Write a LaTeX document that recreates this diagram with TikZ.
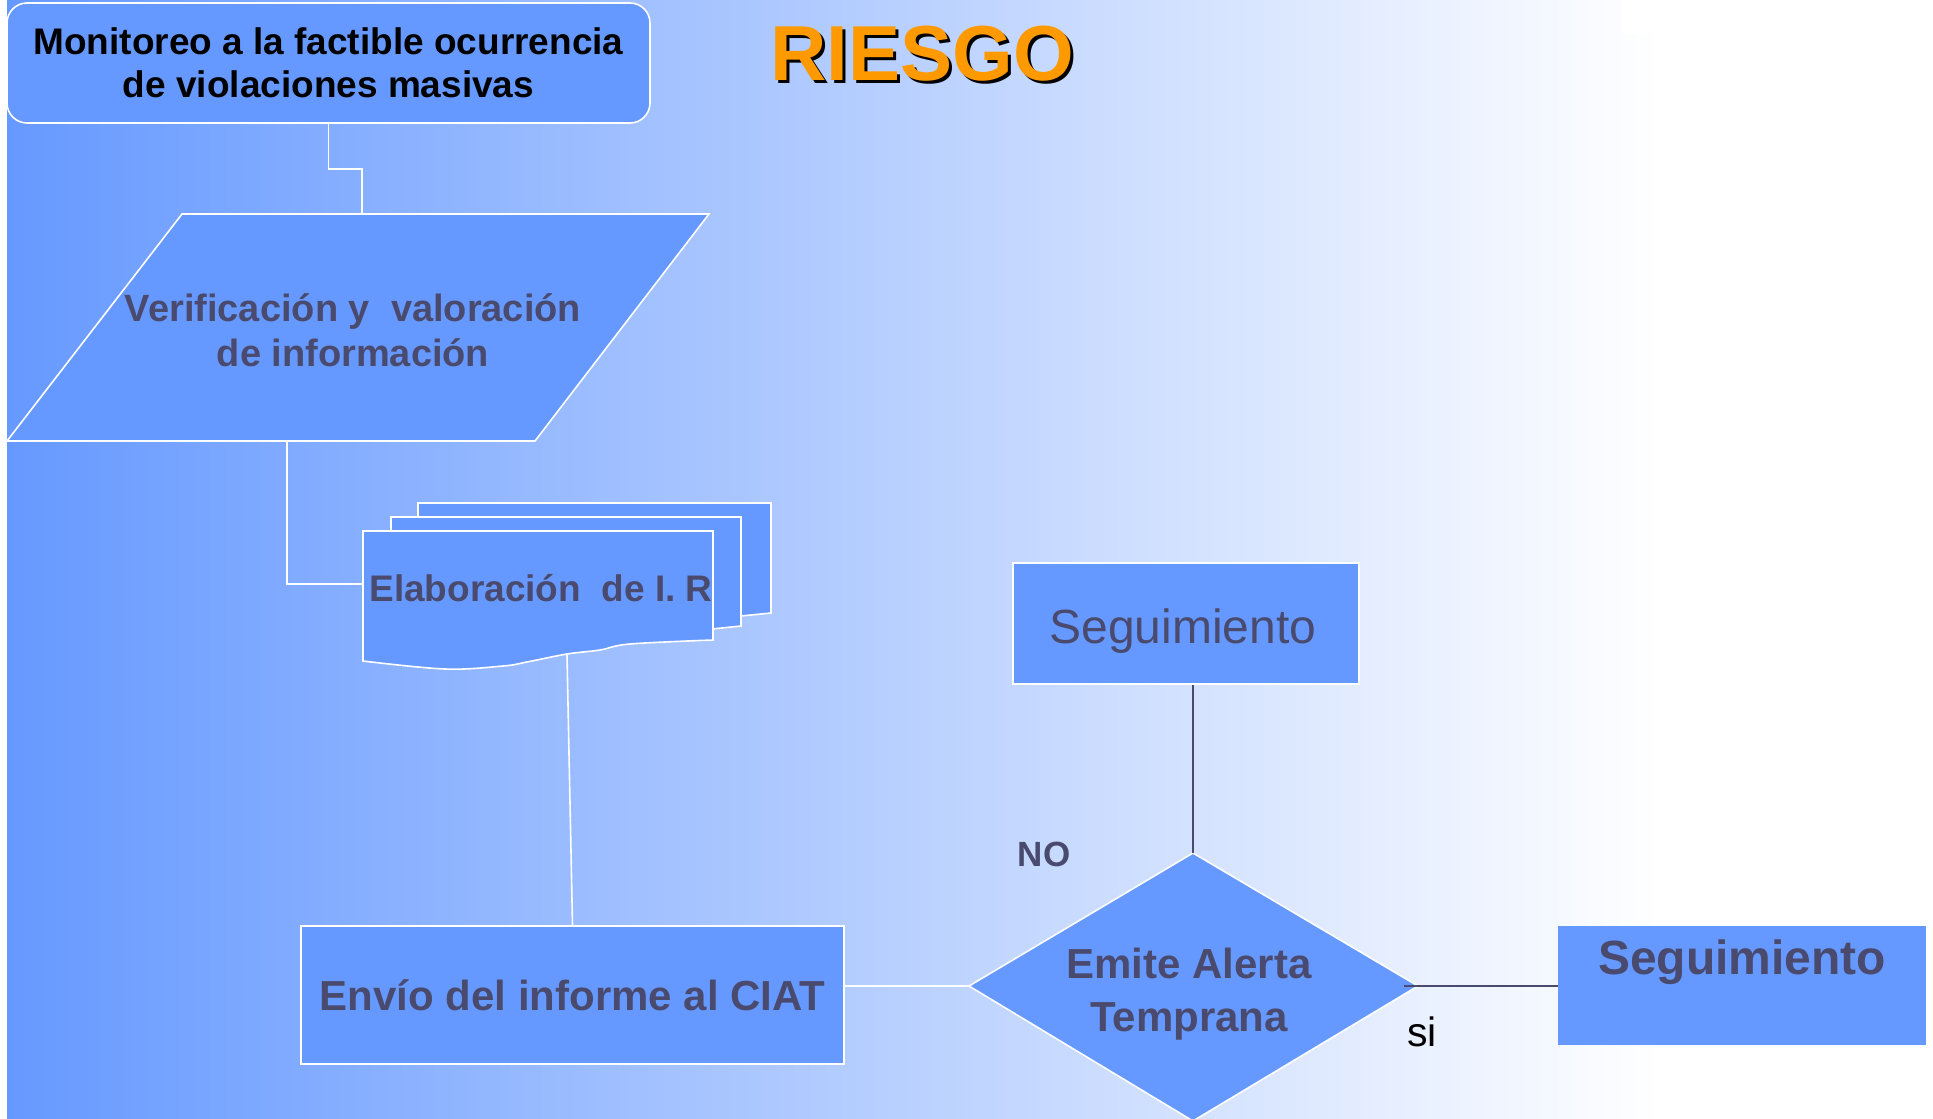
\documentclass[tikz,border=0pt]{standalone}
\usepackage{fontspec}
\setmainfont{Liberation Sans}
\definecolor{boxblue}{RGB}{102,153,255}
\definecolor{txtdark}{RGB}{74,74,110}
\definecolor{titleorange}{RGB}{255,153,0}
\newcommand{\fs}[2]{\fontsize{#1}{#2}\selectfont}
\begin{document}
\begin{tikzpicture}[x=1pt,y=-1pt,
  shapebox/.style={fill=boxblue,draw=white,line width=1.6pt},
  plainbox/.style={fill=boxblue,draw=none},
  wire/.style={draw=white,line width=1.6pt},
  darkwire/.style={draw=txtdark,line width=1.8pt},
  lbl/.style={inner sep=0pt,text=txtdark,font=\bfseries},
]
\useasboundingbox (0,0) rectangle (1933,1119);
\fill[white] (0,0) rectangle (1933,1119);
\shade[left color=boxblue,right color=white] (7,0) rectangle (1660,1119);
\fill[white] (1622,0) rectangle (1875,34);

% title
\node[inner sep=0pt,font=\bfseries\fs{78}{90},text=black] (titleshadow) at (925,57) {RIESGO};
\node[inner sep=0pt,font=\bfseries\fs{78}{90},text=titleorange] (title) at (922,54) {RIESGO};

% Monitoreo
\node[shapebox,rounded corners=20pt,minimum width=643pt,minimum height=120pt,inner sep=0pt,
      align=center,font=\bfseries\fs{37}{43},text=black] (mon) at (328.5,63)
      {Monitoreo a la factible ocurrencia\\de violaciones masivas};

% parallelogram
\coordinate (ptl) at (182,214);
\coordinate (ptr) at (709,214);
\coordinate (pbr) at (535,441);
\coordinate (pbl) at (7,441);
\coordinate (vtop) at (362,214);
\coordinate (vbot) at (287,441);
\draw[shapebox] (ptl) -- (ptr) -- (pbr) -- (pbl) -- cycle;
\node[lbl,align=center,font=\bfseries\fs{38}{45}] (ver) at (353,330)
      {Verificación y\ \ valoración\\de información};

% documents (stack)
\draw[shapebox] (418,503) -- (771,503) -- (771,613) -- (741,616) -- (418,616) -- cycle;
\draw[shapebox] (391,517) -- (741,517) -- (741,626) -- (712,629) -- (391,629) -- cycle;
\draw[shapebox] (363,531) -- (713,531) --
   plot[smooth,tension=0.6] coordinates {(713,640) (630,644) (600,650) (567,654) (527,662) (503,666) (445,669) (363,661)}
   -- cycle;
\coordinate (dleft) at (363,584);
\coordinate (dbot) at (567,655);
\node[lbl,font=\bfseries\fs{37}{44}] (elab) at (541,588) {Elaboración\ \ de I. R};

% Envio
\node[shapebox,minimum width=543pt,minimum height=138pt,inner sep=0pt,
      lbl,font=\bfseries\fs{42}{50}] (env) at (572.5,995) {Envío del informe al CIAT};

% diamond
\coordinate (dl) at (969,986);
\coordinate (dt) at (1193,853);
\coordinate (dr) at (1418,986);
\coordinate (db) at (1193,1121);
\draw[shapebox] (dl) -- (dt) -- (dr) -- (db) -- cycle;
\node[lbl,align=center,font=\bfseries\fs{42}{53}] (emite) at (1189,994) {Emite Alerta\\Temprana};

% Seguimiento boxes
\node[shapebox,minimum width=346pt,minimum height=121pt,inner sep=0pt] (seg1) at (1186,623.5) {};
\node[inner sep=0pt,text=txtdark,font=\fs{48}{56}] (seg1t) at (1183,631) {Seguimiento};
\node[plainbox,minimum width=368pt,minimum height=119pt,inner sep=0pt] (seg2) at (1742,985.5) {};
\node[lbl,font=\bfseries\fs{48}{56}] (seg2t) at (1742,962) {Seguimiento};

% labels
\node[lbl,font=\bfseries\fs{35}{40}] (no) at (1044,854) {NO};
\node[inner sep=0pt,font=\fs{41}{48},text=black] (si) at (1422,1032) {si};

% connectors
\draw[wire] (mon.south) -- ++(0,45) -| (vtop);
\draw[wire] (vbot) |- (dleft);
\draw[wire] (dbot) -- (env.north);
\draw[wire] (env.east |- dl) -- (dl);
\draw[darkwire] (dt |- seg1.south) -- (dt);
\draw[darkwire] ([xshift=-14pt]dr) -- (dr -| seg2.west);
\end{tikzpicture}
\end{document}
